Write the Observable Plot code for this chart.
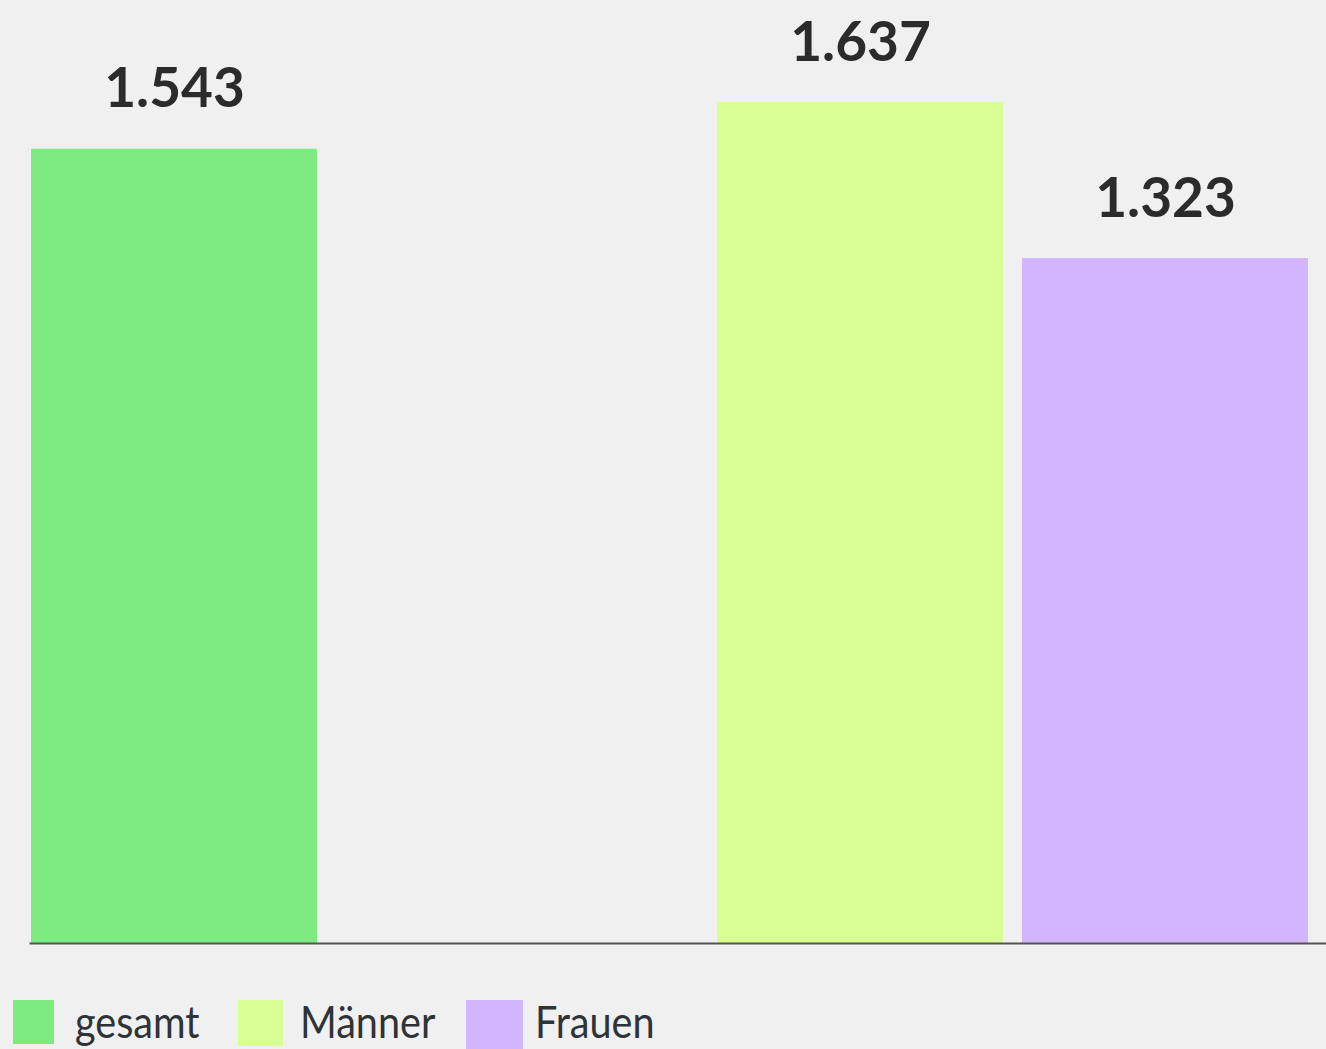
<!DOCTYPE html>
<html>
<head>
<meta charset="utf-8">
<script src="https://cdn.jsdelivr.net/npm/d3@7"></script>
<script src="https://cdn.jsdelivr.net/npm/@observablehq/plot@0.6"></script>
<style>
  html, body { margin: 0; padding: 0; background: #f0f0f0; }
  #wrap { position: relative; width: 1326px; height: 1049px; overflow: hidden; background: #f0f0f0; }
  #chart { position: absolute; left: 0; top: 0; }
  .sw { position: absolute; }
  .lt { position: absolute; font-family: Lato, "Open Sans", sans-serif; font-size: 44px; line-height: 44px;
        color: #2e3338; white-space: nowrap; transform: scaleX(0.9); transform-origin: left center; }
</style>
</head>
<body>
<div id="wrap">
  <div id="chart"></div>
  <div id="legend"></div>
</div>
<script>
// ---- data ----
const categories = ["gesamt", "Männer", "Frauen"];
const values = [1543, 1637, 1323];
const groups = ["gesamt", "nach Geschlecht", "nach Geschlecht"];
const slots = ["1", "1", "2"];
const colors = ["#7deb80", "#d8ff94", "#d3b5fd"];

const data = categories.map((c, i) => ({category: c, value: values[i], group: groups[i], slot: slots[i]}));

const Y_MIN = -55.8;
const Y_MAX = 1842.4;

const plot = Plot.plot({
  width: 1326,
  height: 960,
  marginLeft: 30,
  marginRight: 17,
  marginTop: 0,
  marginBottom: 17,
  style: {background: "transparent", fontFamily: "Lato, 'Open Sans', sans-serif"},
  fx: {domain: ["gesamt", "nach Geschlecht"], paddingInner: 0.1356, paddingOuter: 0, axis: null},
  x: {domain: ["1", "2"], paddingInner: 0.062, paddingOuter: 0, axis: null},
  y: {domain: [Y_MIN, Y_MAX], axis: null},
  color: {domain: categories, range: colors},
  marks: [
    Plot.barY(data, {fx: "group", x: "slot", y1: d => Y_MIN, y2: "value", fill: "category"}),
    Plot.text(data, {
      fx: "group", x: "slot", y: "value",
      text: d => d.value.toLocaleString("de-DE"),
      lineAnchor: "bottom", dy: -42,
      fontSize: 55, fontWeight: "bold", fill: "#2b2b2b"
    }),
    Plot.frame({anchor: "bottom", facet: "super", stroke: "#555", strokeWidth: 2, insetRight: -17})
  ]
});
document.getElementById("chart").appendChild(plot);

// ---- legend ----
const legend = document.getElementById("legend");
const swatchBoxes = [
  {left: 13, top: 1000, w: 41, h: 44},
  {left: 238, top: 1000, w: 45, h: 46},
  {left: 466, top: 1000, w: 57, h: 49}
];
const textLefts = [75, 300, 535];
categories.forEach((c, i) => {
  const s = document.createElement("div");
  s.className = "sw";
  const b = swatchBoxes[i];
  s.style.left = b.left + "px"; s.style.top = b.top + "px";
  s.style.width = b.w + "px"; s.style.height = b.h + "px";
  s.style.background = colors[i];
  legend.appendChild(s);
  const t = document.createElement("div");
  t.className = "lt";
  t.textContent = c;
  t.style.left = textLefts[i] + "px"; t.style.top = "999px";
  legend.appendChild(t);
});
</script>
</body>
</html>
